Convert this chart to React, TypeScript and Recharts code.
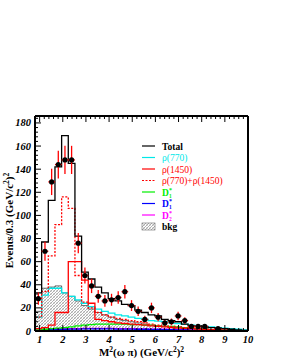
import { ComposedChart, Line, Area, Scatter, ErrorBar, XAxis, YAxis, Legend } from 'recharts';

// histogram bin edges: 32 bins across the frame, 0.8 .. 10
const binEdges = [
  0.8, 1.0875, 1.375, 1.6625, 1.95, 2.2375, 2.525, 2.8125, 3.1, 3.3875, 3.675,
  3.9625, 4.25, 4.5375, 4.825, 5.1125, 5.4, 5.6875, 5.975, 6.2625, 6.55, 6.8375,
  7.125, 7.4125, 7.7, 7.9875, 8.275, 8.5625, 8.85, 9.1375, 9.425, 9.7125, 10.0,
];

const total = [33, 77, 113, 142, 169, 145, 82, 51, 45, 38, 33, 28, 26, 23, 22, 18, 16, 14, 13, 10, 9, 8, 6, 4.5, 4, 3.5, 3, 2.5, 2, 1.5, 1, 0.5];
const rho770 = [12, 31, 37, 37, 33, 30, 27, 24, 21, 19, 17, 15.5, 14, 13, 12, 11, 10, 9, 8.5, 8, 7, 6.5, 6, 5, 4.5, 4, 3.5, 3, 2.5, 2, 1.5, 1];
const rho1450 = [2, 3, 5, 16, 16, 60, 60, 44, 24, 10, 9, 8, 7, 6.5, 6, 5.5, 5, 4.5, 4, 3.5, 3, 2.5, 2.2, 2, 1.7, 1.4, 1.2, 1, 0.8, 0.6, 0.4, 0.2];
const rhoSum = [12, 34, 65, 92, 116, 106, 48, 25, 20, 16, 14, 12, 11, 10, 9, 8, 7, 6, 5, 4.5, 4, 3.5, 3, 2.5, 2, 1.5, 1.2, 1, 0.8, 0.5, 0.3, 0.2];
const d1 = [1, 1.5, 2, 2.5, 3, 3.5, 4.5, 5, 5.5, 6, 6, 6, 6, 6, 5.5, 5.5, 5, 5, 4.5, 4, 4, 3.5, 3, 2.5, 2, 1.5, 1.2, 1, 0.6, 0.4, 0.2, 0.1];
const d1p = [0.5, 1, 1.2, 1.4, 1.5, 1.6, 1.7, 1.8, 1.8, 1.8, 1.8, 1.8, 1.7, 1.7, 1.6, 1.5, 1.5, 1.4, 1.3, 1.2, 1.1, 1, 0.9, 0.8, 0.7, 0.6, 0.5, 0.4, 0.3, 0.2, 0.1, 0.1];
const d2 = [0.5, 1, 1.5, 2, 2, 2, 2, 2.2, 2.2, 2.2, 2.2, 2.2, 2.1, 2, 2, 1.9, 1.8, 1.7, 1.6, 1.5, 1.4, 1.3, 1.2, 1, 0.9, 0.8, 0.6, 0.5, 0.4, 0.3, 0.2, 0.1];
const bkg = [17, 37, 38, 39, 33, 30, 26, 22, 19, 16, 14, 12, 10, 9, 8, 7, 6, 5, 4.5, 4, 3.5, 3, 2.5, 2, 2, 1.5, 1.2, 1, 0.8, 0.5, 0.3, 0.2];

// data points at bin centres, with errors
const ptX = [0.944, 1.231, 1.519, 1.806, 2.094, 2.381, 2.669, 2.956, 3.244, 3.531, 3.819, 4.106, 4.394, 4.681, 4.969, 5.256, 5.544, 5.831, 6.119, 6.406, 6.694, 6.981, 7.269, 7.556, 7.844, 8.131, 8.706];
const ptY = [28, 69, 129, 144, 148, 148, 76, 48, 39, 30, 26, 27, 29, 34, 22, 17, 10, 20, 12, 7, 8, 13, 9, 4, 4, 4, 2];
const ptErr = [5.3, 8.3, 11.4, 12, 12.2, 12.2, 8.7, 6.9, 6.2, 5.5, 5.1, 5.2, 5.4, 5.8, 4.7, 4.1, 3.2, 4.5, 3.5, 2.6, 2.8, 3.6, 3, 2, 2, 2, 1.4];

const xMajor = [1, 2, 3, 4, 5, 6, 7, 8, 9, 10];
const yMajor = [0, 20, 40, 60, 80, 100, 120, 140, 160, 180];

const xTicks: number[] = [];
for (let v = 0.8; v <= 10.001; v += 0.2) xTicks.push(Math.round(v * 10) / 10);
const yTicks: number[] = [];
for (let v = 0; v <= 184; v += 4) yTicks.push(v);

const hist = binEdges.map((x, i) => {
  const k = Math.min(i, total.length - 1);
  return {
    x,
    total: total[k], rho770: rho770[k], rho1450: rho1450[k], rhoSum: rhoSum[k],
    d1: d1[k], d1p: d1p[k], d2: d2[k], bkg: bkg[k],
  };
});
const points = ptX.map((x, i) => ({ x, y: ptY[i], ey: ptErr[i], ex: 0.14375 }));

const FONT = '"Liberation Serif", "DejaVu Serif", serif';
const isMajor = (v: number, majors: number[]) => majors.some((m) => Math.abs(m - v) < 1e-6);

const BottomTick = ({ x, y, payload }: any) => {
  const major = isMajor(payload.value, xMajor);
  return (
    <g>
      <line x1={x} x2={x} y1={y} y2={y - (major ? 6 : 3)} stroke="#000" />
      {major && (
        <text x={x} y={y + 11.5} textAnchor="middle" fontFamily={FONT} fontWeight="bold" fontStyle="italic" fontSize={10.5} fill="#000">
          {payload.value}
        </text>
      )}
    </g>
  );
};
const TopTick = ({ x, y, payload }: any) => {
  const major = isMajor(payload.value, xMajor);
  return <line x1={x} x2={x} y1={y} y2={y + (major ? 6 : 3)} stroke="#000" />;
};
const LeftTick = ({ x, y, payload }: any) => {
  const major = isMajor(payload.value, yMajor);
  return (
    <g>
      <line x1={x} x2={x + (major ? 6 : 3)} y1={y} y2={y} stroke="#000" />
      {major && (
        <text x={x - 4} y={y + 3.5} textAnchor="end" fontFamily={FONT} fontWeight="bold" fontStyle="italic" fontSize={10.5} fill="#000">
          {payload.value}
        </text>
      )}
    </g>
  );
};
const RightTick = ({ x, y, payload }: any) => {
  const major = isMajor(payload.value, yMajor);
  return <line x1={x} x2={x - (major ? 6 : 3)} y1={y} y2={y} stroke="#000" />;
};

const XTitle = ({ viewBox }: any) => {
  const cx = viewBox.x + viewBox.width / 2;
  return (
    <text x={cx} y={viewBox.y + 24.5} textAnchor="middle" fontFamily={FONT} fontWeight="bold" fontSize={11} fill="#000">
      M<tspan dy={-3.5} fontSize={7.5}>2</tspan>
      <tspan dy={3.5}>(ω π) (GeV/c</tspan>
      <tspan dy={-3.5} fontSize={7.5}>2</tspan>
      <tspan dy={3.5}>)</tspan>
      <tspan dy={-3.5} fontSize={7.5}>2</tspan>
    </text>
  );
};
const YTitle = ({ viewBox }: any) => {
  const cy = viewBox.y + viewBox.height / 2 - 3;
  const x = viewBox.x - 21;
  return (
    <text transform={`translate(${x},${cy}) rotate(-90)`} textAnchor="middle" fontFamily={FONT} fontWeight="bold" fontSize={11} fill="#000">
      Events/0.3 (GeV/c<tspan dy={-4} fontSize={7.5}>2</tspan>
      <tspan dy={4}>)</tspan>
      <tspan dy={-4} fontSize={7.5}>2</tspan>
    </text>
  );
};

const legendRows = [
  { key: 'total', color: '#000', label: 'Total', bold: true },
  { key: 'rho770', color: '#00e8e8', label: 'ρ(770)' },
  { key: 'rho1450', color: '#ff0000', label: 'ρ(1450)' },
  { key: 'rhoSum', color: '#ff0000', label: 'ρ(770)+ρ(1450)', dash: true },
  { key: 'd1', color: '#00ee00', label: 'D', sub: '1', bold: true },
  { key: 'd1p', color: '#0000ff', label: 'D', sub: '1', bold: true },
  { key: 'd2', color: '#ff00ff', label: 'D', sub: '2', bold: true },
  { key: 'bkg', color: '#000', label: 'bkg', bold: true, box: true },
];

const LegendBox = () => (
  <svg width={120} height={96} style={{ display: 'block' }}>
    {legendRows.map((r, i) => {
      const y = 8 + i * 11.5;
      return (
        <g key={r.key}>
          {r.box ? (
            <rect x={4} y={y - 3.5} width={13} height={7} fill="url(#hatch)" stroke="#666" strokeWidth={0.6} />
          ) : (
            <line x1={4} x2={17} y1={y} y2={y} stroke={r.color} strokeWidth={1.2} strokeDasharray={r.dash ? '2 1.5' : undefined} />
          )}
          <text x={24} y={y + 3.5} fontFamily={FONT} fontWeight={r.bold ? 'bold' : 'normal'} fontSize={9.5} fill={r.color}>
            {r.label}
            {r.sub && (
              <>
                <tspan dy={-4} fontSize={6}>*</tspan>
                <tspan dx={-3} dy={6} fontSize={5.5}>{r.sub}</tspan>
              </>
            )}
          </text>
        </g>
      );
    })}
  </svg>
);

export default function App() {
  return (
    <div style={{ position: 'absolute', left: 0, top: 0, width: 281, height: 363, background: '#fff' }}>
      <svg width={0} height={0} style={{ position: 'absolute' }}>
        <defs>
          <pattern id="hatch" width={3} height={3} patternUnits="userSpaceOnUse">
            <rect width={3} height={3} fill="#fff" />
            <path d="M0,3 L3,0 M-1,1 L1,-1 M2,4 L4,2" stroke="#888" strokeWidth={0.7} />
            <path d="M0,0 L3,3" stroke="#bbb" strokeWidth={0.5} />
          </pattern>
        </defs>
      </svg>
      <ComposedChart width={281} height={363} data={hist} margin={{ top: 115, right: 32, bottom: 31, left: 34 }}>
        <XAxis
          dataKey="x" type="number" domain={[0.8, 10]} ticks={xTicks} interval={0} allowDataOverflow
          height={1} tickSize={0} tickMargin={0} tick={<BottomTick />}
          axisLine={{ stroke: '#000', strokeWidth: 2 }} label={<XTitle />}
        />
        <XAxis
          xAxisId="top" orientation="top" dataKey="x" type="number" domain={[0.8, 10]} ticks={xTicks} interval={0}
          allowDataOverflow height={1} tickSize={0} tickMargin={0} tick={<TopTick />}
          axisLine={{ stroke: '#000', strokeWidth: 2 }}
        />
        <YAxis
          type="number" domain={[0, 186]} ticks={yTicks} interval={0} allowDataOverflow
          width={1} tickSize={0} tickMargin={0} tick={<LeftTick />}
          axisLine={{ stroke: '#000', strokeWidth: 2 }} label={<YTitle />}
        />
        <YAxis
          yAxisId="right" orientation="right" type="number" domain={[0, 186]} ticks={yTicks} interval={0}
          width={1} tickSize={0} tickMargin={0} tick={<RightTick />}
          axisLine={{ stroke: '#000', strokeWidth: 2 }}
        />
        <Area type="stepAfter" dataKey="bkg" fill="url(#hatch)" fillOpacity={1} stroke="#444" strokeWidth={0.8} isAnimationActive={false} activeDot={false} />
        <Line type="stepAfter" dataKey="d2" stroke="#ff00ff" strokeWidth={1.3} dot={false} activeDot={false} isAnimationActive={false} />
        <Line type="stepAfter" dataKey="d1p" stroke="#0000ff" strokeWidth={1.3} dot={false} activeDot={false} isAnimationActive={false} />
        <Line type="stepAfter" dataKey="d1" stroke="#00ee00" strokeWidth={1.3} dot={false} activeDot={false} isAnimationActive={false} />
        <Line type="stepAfter" dataKey="rho770" stroke="#00e8e8" strokeWidth={1.3} dot={false} activeDot={false} isAnimationActive={false} />
        <Line type="stepAfter" dataKey="rho1450" stroke="#ff0000" strokeWidth={1.3} dot={false} activeDot={false} isAnimationActive={false} />
        <Line type="stepAfter" dataKey="rhoSum" stroke="#ff0000" strokeWidth={1.3} strokeDasharray="2 1.5" dot={false} activeDot={false} isAnimationActive={false} />
        <Line type="stepAfter" dataKey="total" stroke="#000" strokeWidth={1.3} dot={false} activeDot={false} isAnimationActive={false} />
        <Scatter
          data={points} dataKey="y" isAnimationActive={false}
          shape={(p: any) => <circle cx={p.cx} cy={p.cy} r={2.6} fill="#000" />}
        >
          <ErrorBar dataKey="ey" direction="y" width={0} stroke="#ff0000" strokeWidth={1.3} />
          <ErrorBar dataKey="ex" direction="x" width={0} stroke="#ff0000" strokeWidth={1.3} />
        </Scatter>
        <Legend
          layout="vertical" align="center" verticalAlign="middle" content={<LegendBox />}
          wrapperStyle={{ position: 'absolute', left: 138, top: 138, width: 120, height: 96 }}
        />
      </ComposedChart>
    </div>
  );
}
